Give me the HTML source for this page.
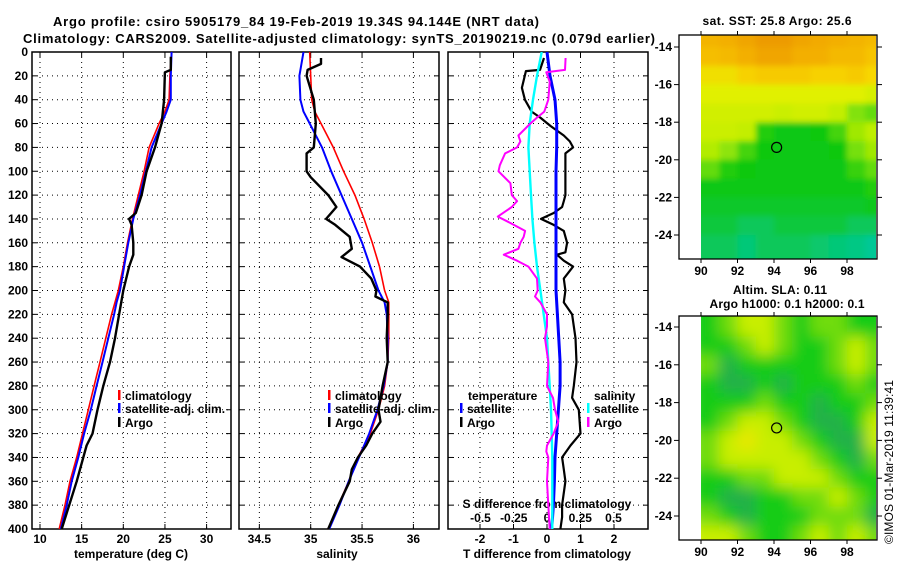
<!DOCTYPE html>
<html><head><meta charset="utf-8">
<style>
html,body{margin:0;padding:0;background:#fff;}
svg{display:block;font-family:"Liberation Sans",sans-serif;font-weight:bold;}
text{font-size:12px;fill:#000;}
</style></head>
<body>
<svg id="chart" width="900" height="580" viewBox="0 0 900 580">
<defs>
<clipPath id="clipT"><rect x="32" y="52" width="199" height="477"/></clipPath>
<clipPath id="clipS"><rect x="239" y="52" width="200" height="477"/></clipPath>
<clipPath id="clipD"><rect x="448" y="52" width="200" height="477"/></clipPath>
<clipPath id="clipM1"><rect x="701" y="35" width="175" height="224"/></clipPath>
<clipPath id="clipM2"><rect x="701" y="316" width="175" height="224"/></clipPath>
<filter id="blur" x="-5%" y="-5%" width="110%" height="110%"><feGaussianBlur stdDeviation="7"/></filter>
<filter id="blur1" x="-5%" y="-5%" width="110%" height="110%"><feGaussianBlur stdDeviation="3"/></filter>
</defs>
<text x="296" y="26" text-anchor="middle" style="font-size:13px" textLength="486">Argo profile: csiro 5905179_84 19-Feb-2019 19.34S 94.144E (NRT data)</text>
<text x="339" y="43" text-anchor="middle" style="font-size:13px" textLength="632">Climatology: CARS2009. Satellite-adjusted climatology: synTS_20190219.nc (0.079d earlier)</text>
<text x="777" y="25" text-anchor="middle" style="font-size:12px" textLength="149">sat. SST: 25.8 Argo: 25.6</text>
<text x="780" y="294" text-anchor="middle" textLength="94">Altim. SLA: 0.11</text>
<text x="787" y="308" text-anchor="middle" textLength="155">Argo h1000: 0.1 h2000: 0.1</text>
<text transform="translate(893,462) rotate(-90)" text-anchor="middle" style="font-weight:normal;font-size:12px" textLength="164">©IMOS 01-Mar-2019 11:39:41</text>
<g id="layer"></g>
</svg>
<script>
// ---- data ----
const depthTicks = [0,20,40,60,80,100,120,140,160,180,200,220,240,260,280,300,320,340,360,380,400];
const tempTicks = [10,15,20,25,30];
const salTicks = [34.5,35,35.5,36];
const tdiffTicks = [-2,-1,0,1,2];
const sdiffTicks = [-0.5,-0.25,0,0.25,0.5];
const sdiffTickLabels = ["-0.5","-0.25","0","0.25","0.5"];

const climDepth = [0,20,40,50,60,80,100,120,140,160,180,200,210,220,240,260,280,300,320,340,360,380,400];
const tempClim = [25.8,25.6,25.5,25.0,24.3,23.1,22.5,21.8,21.1,20.5,20.0,19.4,19.0,18.6,17.9,17.2,16.5,15.8,15.1,14.4,13.6,13.0,12.3];
const tempSat  = [25.8,25.7,25.7,25.2,24.6,23.4,22.7,22.0,21.2,20.6,20.1,19.6,19.2,18.9,18.2,17.5,16.8,16.1,15.3,14.6,13.8,13.2,12.5];
const salClim  = [34.99,35.0,35.01,35.04,35.10,35.22,35.32,35.43,35.52,35.60,35.67,35.72,35.76,35.76,35.76,35.75,35.72,35.66,35.58,35.46,35.37,35.27,35.17];
const salSat   = [34.93,34.89,34.90,34.93,34.99,35.11,35.20,35.30,35.40,35.50,35.58,35.66,35.72,35.74,35.75,35.75,35.71,35.65,35.57,35.47,35.37,35.28,35.18];

const argoTDepth = [4,15,17,40,60,80,100,120,135,140,145,160,170,180,200,220,240,260,280,300,320,330,340,360,380,400];
const tempArgo  = [25.7,25.7,25.0,24.9,24.6,23.8,22.8,22.2,21.5,20.7,21.0,21.2,21.2,20.7,20.0,19.5,19.0,18.4,17.6,16.9,16.3,15.6,15.2,14.4,13.5,12.6];

const argoSDepth = [5,10,15,20,40,60,70,80,85,100,105,120,130,140,145,155,165,172,180,190,200,205,210,220,240,260,280,300,310,320,330,340,350,360,380,400];
const salArgo = [35.10,35.10,34.97,34.96,35.03,35.05,35.04,35.03,34.96,34.96,35.0,35.17,35.25,35.15,35.24,35.38,35.40,35.30,35.48,35.59,35.64,35.63,35.75,35.75,35.74,35.75,35.70,35.66,35.68,35.60,35.54,35.46,35.40,35.38,35.27,35.17];

const tdArgoDepth = [5,15,16,30,40,50,55,62,70,75,80,85,100,110,120,125,130,135,140,145,150,160,168,170,175,180,190,200,210,220,240,260,280,290,300,320,330,340,350,360,380,390,400];
const tdiffArgo = [-0.09,-0.21,-0.63,-0.75,-0.66,-0.46,-0.2,0.1,0.5,0.68,0.78,0.55,0.55,0.55,0.55,0.5,0.45,0.2,-0.18,0.2,0.5,0.6,0.55,0.3,0.5,0.78,0.5,0.55,0.5,0.75,0.85,0.88,0.8,0.75,0.95,1.0,0.7,0.45,0.5,0.55,0.45,0.45,0.4];
const tdSatDepth = [0,20,40,60,80,100,150,200,220,260,280,300,320,340,360,380,400];
const tdiffSat = [0,0.09,0.24,0.29,0.29,0.27,0.27,0.27,0.31,0.39,0.39,0.34,0.29,0.24,0.22,0.19,0.14];
const sdSatDepth = [0,20,40,60,80,100,120,140,160,180,200,220,240,260,280,300,320,340,360,380,400];
const sdiffSat = [-0.04,-0.075,-0.105,-0.13,-0.14,-0.13,-0.12,-0.11,-0.095,-0.075,-0.05,-0.025,0,0.01,0.02,0.03,0.035,0.04,0.04,0.04,0.04];
const sdArgoDepth = [5,15,17,25,40,50,55,60,70,75,80,85,95,100,110,120,125,130,138,142,150,155,160,165,170,175,180,190,200,205,210,220,230,240,260,280,290,300,310,320,330,335,340,360,380,400];
const sdiffArgo = [0.14,0.135,-0.005,0.02,0.01,-0.02,-0.075,-0.125,-0.215,-0.2,-0.225,-0.315,-0.355,-0.365,-0.275,-0.265,-0.225,-0.265,-0.37,-0.3,-0.165,-0.175,-0.2,-0.215,-0.325,-0.225,-0.14,-0.075,-0.07,-0.09,-0.05,0,0,-0.015,0.01,0,0.045,0.06,0.085,0.05,0,-0.005,0.01,0,0.01,0.02];

// SST map: rows from north southward, 1-degree cells; cols lon 90..99
const mapLons = [90,91,92,93,94,95,96,97,98,99];
const sstLats = [-13.36,-14,-15,-16,-17,-18,-19,-20,-21,-22,-23,-24];
const sstGrid = [
 [26.3,26.35,26.45,26.55,26.55,26.45,26.4,26.35,26.3,26.25],
 [26.2,26.25,26.35,26.45,26.45,26.35,26.35,26.25,26.25,26.15],
 [25.95,25.95,26.05,26.1,26.1,26.1,26.05,26.05,26.1,26.0],
 [25.85,25.85,25.85,25.85,25.85,25.85,25.85,25.85,25.85,25.8],
 [25.78,25.78,25.78,25.78,25.75,25.78,25.78,25.72,25.6,25.55],
 [25.75,25.75,25.72,25.45,25.4,25.4,25.42,25.5,25.65,25.7],
 [25.68,25.62,25.5,25.42,25.4,25.4,25.4,25.42,25.58,25.65],
 [25.55,25.45,25.42,25.4,25.4,25.4,25.4,25.4,25.48,25.55],
 [25.4,25.4,25.4,25.4,25.4,25.4,25.4,25.4,25.4,25.45],
 [25.35,25.35,25.35,25.35,25.35,25.35,25.35,25.35,25.35,25.38],
 [25.3,25.3,25.25,25.25,25.3,25.3,25.3,25.3,25.25,25.25],
 [25.25,25.25,25.2,25.25,25.25,25.25,25.22,25.2,25.18,25.15]
];
// SLA map: class values -1 (low) .. 3 (high)
const slaLats = [-13.42,-14.5,-15.5,-16.5,-17.5,-18.5,-19.5,-20.5,-21.5,-22.5,-23.5,-24.5];
const slaGrid = [
 [0,1,2,2,1,0,1,1,0,0],
 [0,0,1,2,1,0,0,1,2,1],
 [1,-1,0,0,0,0,0,1,2,1],
 [0,-1,-1,0,-1,0,0,0,1,0],
 [0,0,0,1,0,0,-1,0,0,1],
 [0,1,2,2,1,0,-1,-1,0,2],
 [1,2,3,2,2,1,0,-1,-1,2],
 [1,2,2,2,2,2,1,0,-1,1],
 [0,0,1,1,2,2,2,1,0,0],
 [0,-1,-1,0,0,1,1,2,1,0],
 [1,0,-1,0,0,0,1,1,1,-1],
 [2,2,1,0,0,1,2,1,2,1]
];
const mapLonTicks = [90,92,94,96,98];
const mapLatTicks = [-14,-16,-18,-20,-22,-24];
const argoLon = 94.144, argoLat = -19.34;

// ---- helpers ----
const NS = "http://www.w3.org/2000/svg";
const layer = document.getElementById('layer');
function mk(tag, attrs, parent){ const e=document.createElementNS(NS,tag); for(const k in attrs) e.setAttribute(k,attrs[k]); (parent||layer).appendChild(e); return e; }
const yD = d => 52 + d*477/400;
const xT = t => 40 + (t-10)*8.33;
const xS = s => 310.7 + (s-35)*102.7;
const xTD = t => 547 + t*33.5;
const xSD = s => 547 + s*133;

function panel(name, x0, w, xticks, xf){
  const g = mk('g',{});
  
  
  depthTicks.forEach(d=>{ if(d>0&&d<400){ mk('line',{x1:x0,x2:x0+w,y1:yD(d),y2:yD(d),stroke:'#000','stroke-width':1,'stroke-dasharray':'1 4'},g);} 
    mk('line',{x1:x0,x2:x0+5,y1:yD(d),y2:yD(d),stroke:'#000'},g); mk('line',{x1:x0+w-5,x2:x0+w,y1:yD(d),y2:yD(d),stroke:'#000'},g);});
  xticks.forEach(v=>{ const x=xf(v); mk('line',{x1:x,x2:x,y1:52,y2:529,stroke:'#000','stroke-dasharray':'1 4'},g);
    mk('line',{x1:x,x2:x,y1:524,y2:529,stroke:'#000'},g); mk('line',{x1:x,x2:x,y1:52,y2:57,stroke:'#000'},g);});
  mk('rect',{x:x0,y:52,width:w,height:477,fill:'none',stroke:'#000','stroke-width':1.5},g);
  return g;
}
function series(name, depths, vals, xf, color, width, clip){
  let d='';
  depths.forEach((dp,i)=>{ d += (i?'L':'M') + xf(vals[i]).toFixed(1) + ',' + yD(dp).toFixed(1); });
  const p = mk('path',{d:d,fill:'none',stroke:color,'stroke-width':width,'stroke-linejoin':'round','clip-path':'url(#'+clip+')'});
  
  
  return p;
}
function label(name, x, y, txt, anchor){
  const t = mk('text',{x:x,y:y,'text-anchor':anchor||'middle'});
  t.textContent = txt;
  
  
  return t;
}
function legend(name, x, y, color, txt){
  const g = mk('g',{});
  
  
  mk('rect',{x:x,y:y-10,width:2.5,height:10,fill:color},g);
  const t = mk('text',{x:x+7,y:y},g); t.textContent = txt;
  return g;
}

// ---- panels ----
panel('temperature-panel', 32, 199, tempTicks, xT);
panel('salinity-panel', 239, 200, salTicks, xS);
panel('difference-panel', 448, 200, tdiffTicks, xTD);

depthTicks.forEach(d=>label('depth-tick-label', 28, yD(d)+4, String(d), 'end'));
tempTicks.forEach(v=>label('temperature-tick-label', xT(v), 543, String(v)));
salTicks.forEach(v=>label('salinity-tick-label', xS(v), 543, String(v)));
tdiffTicks.forEach(v=>label('t-difference-tick-label', xTD(v), 543, String(v)));
sdiffTicks.forEach((v,i)=>label('s-difference-tick-label', xSD(v), 522, sdiffTickLabels[i]));
label('temperature-axis-title', 131, 558, 'temperature (deg C)');
label('salinity-axis-title', 337, 558, 'salinity');
label('t-difference-axis-title', 547, 558, 'T difference from climatology');
label('s-difference-axis-title', 547, 508, 'S difference from climatology');

series('temperature-climatology-line', climDepth, tempClim, xT, '#ff0000', 1.6, 'clipT');
series('temperature-satellite-line', climDepth, tempSat, xT, '#0000ff', 2, 'clipT');
series('temperature-argo-line', argoTDepth, tempArgo, xT, '#000', 2.4, 'clipT');
series('salinity-climatology-line', climDepth, salClim, xS, '#ff0000', 1.6, 'clipS');
series('salinity-satellite-line', climDepth, salSat, xS, '#0000ff', 2, 'clipS');
series('salinity-argo-line', argoSDepth, salArgo, xS, '#000', 2.4, 'clipS');
series('t-difference-argo-line', tdArgoDepth, tdiffArgo, xTD, '#000', 2.2, 'clipD');
series('t-difference-satellite-line', tdSatDepth, tdiffSat, xTD, '#0000ff', 3, 'clipD');
series('s-difference-satellite-line', sdSatDepth, sdiffSat, xSD, '#00ffff', 2.4, 'clipD');
series('s-difference-argo-line', sdArgoDepth, sdiffArgo, xSD, '#ff00ff', 2, 'clipD');

legend('legend-climatology', 118, 400, '#ff0000', 'climatology');
legend('legend-satellite-adj', 118, 413, '#0000ff', 'satellite-adj. clim.');
legend('legend-argo', 118, 427, '#000', 'Argo');
legend('legend-climatology-s', 328, 400, '#ff0000', 'climatology');
legend('legend-satellite-adj-s', 328, 413, '#0000ff', 'satellite-adj. clim.');
legend('legend-argo-s', 328, 427, '#000', 'Argo');
label('legend-temperature-header', 468, 400, 'temperature', 'start');
legend('legend-t-satellite', 460, 413, '#0000ff', 'satellite');
legend('legend-t-argo', 460, 427, '#000', 'Argo');
label('legend-salinity-header', 594, 400, 'salinity', 'start');
legend('legend-s-satellite', 587, 413, '#00ffff', 'satellite');
legend('legend-s-argo', 587, 427, '#ff00ff', 'Argo');

// ---- maps ----
const lonX = lon => 701 + (lon-90)*18.25;
function sstColor(v){
  const stops=[[25.15,[0,200,150]],[25.3,[16,200,60]],[25.42,[16,200,16]],[25.55,[100,220,16]],[25.7,[190,238,0]],[25.85,[225,240,0]],[26.0,[248,215,0]],[26.2,[245,190,0]],[26.4,[242,170,0]],[26.6,[235,150,0]]];
  if(v<=stops[0][0]) return 'rgb('+stops[0][1]+')';
  for(let i=1;i<stops.length;i++){ if(v<=stops[i][0]){ const a=stops[i-1],b=stops[i],f=(v-a[0])/(b[0]-a[0]);
    return 'rgb('+a[1].map((c,j)=>Math.round(c+(b[1][j]-c)*f)).join(',')+')'; } }
  return 'rgb('+stops[stops.length-1][1]+')';
}
const slaColors = {'-1':'#20b048','0':'#18cc18','1':'#70dc10','2':'#c8ee00','3':'#e8e800'};

function mapFrame(name, top, bottom, latY){
  const g = mk('g',{});
  
  
  mk('rect',{x:679,y:top,width:198,height:bottom-top,fill:'none',stroke:'#000','stroke-width':1.3},g);
  mapLatTicks.forEach(l=>{ const y=latY(l); mk('line',{x1:674,x2:679,y1:y,y2:y,stroke:'#000'},g); mk('line',{x1:877,x2:882,y1:y,y2:y,stroke:'#000'},g);
    const t=mk('text',{x:672,y:y+4,'text-anchor':'end'},g); t.textContent=String(l); });
  mapLonTicks.forEach(l=>{ const x=lonX(l); mk('line',{x1:x,x2:x,y1:top-4,y2:top,stroke:'#000'},g); mk('line',{x1:x,x2:x,y1:bottom,y2:bottom+4,stroke:'#000'},g);
    const t=mk('text',{x:x,y:bottom+16,'text-anchor':'middle'},g); t.textContent=String(l); });
  return g;
}
// SST map
const latY1 = l => 47 + (-14 - l)*18.8;
const sstOuter = mk('g',{'clip-path':'url(#clipM1)'});


const sstG = mk('g',{filter:'url(#blur1)'},sstOuter);
sstGrid.forEach((row,r)=>{ const y0= r===0?25:latY1(sstLats[r]); const y1= r+1<sstLats.length? latY1(sstLats[r+1]) : 270;
  row.forEach((v,c)=>{ const x0= c===0?690:lonX(mapLons[c]); const x1= c===9?890:lonX(mapLons[c]+1);
    const cell = mk('rect',{x:x0,y:y0,width:x1-x0+0.5,height:y1-y0+0.5,fill:sstColor(v)},sstG);
    
     }); });
mapFrame('sst-map-frame', 35, 259, latY1);
const c1 = mk('circle',{cx:lonX(argoLon),cy:latY1(argoLat),r:5,fill:'none',stroke:'#000','stroke-width':1.2});



// SLA map
const latY2 = l => 327 + (-14 - l)*18.9;
const slaOuter = mk('g',{'clip-path':'url(#clipM2)'});


const slaG = mk('g',{filter:'url(#blur)'},slaOuter);
mk('rect',{x:690,y:305,width:200,height:250,fill:'#18cc18'},slaG);
slaGrid.forEach((row,r)=>{ const y0= r===0?300:latY2(slaLats[r]); const y1= r+1<slaLats.length? latY2(slaLats[r+1]) : 556;
  row.forEach((v,c)=>{ const x0= c===0?690:lonX(mapLons[c]); const x1= c===9?890:lonX(mapLons[c]+1);
    const cell = mk('rect',{x:x0,y:y0,width:x1-x0+0.5,height:y1-y0+0.5,fill:slaColors[String(v)]},slaG);
    
     }); });
mapFrame('sla-map-frame', 316, 540, latY2);
const c2 = mk('circle',{cx:lonX(argoLon),cy:latY2(argoLat),r:5,fill:'none',stroke:'#000','stroke-width':1.2});


</script>
</body></html>
